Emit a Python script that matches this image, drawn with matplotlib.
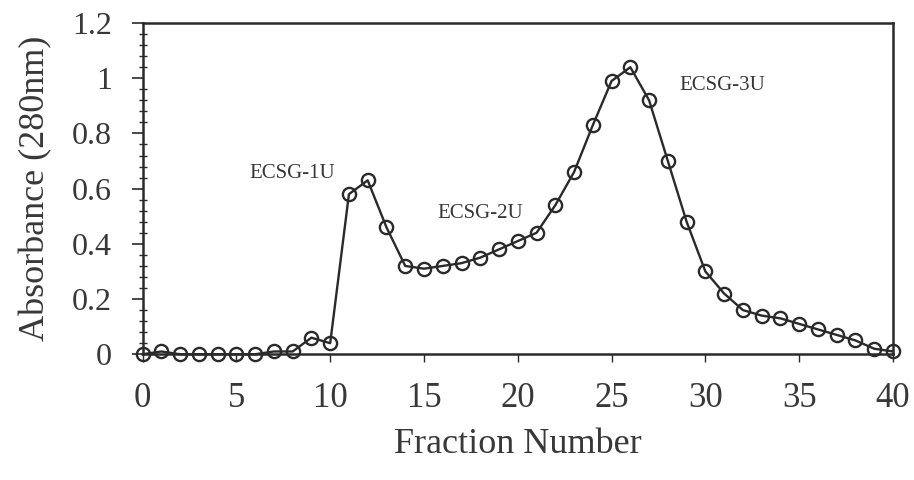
import matplotlib
matplotlib.use('Agg')
import matplotlib.pyplot as plt
from matplotlib.ticker import MultipleLocator

# fraction number vs absorbance at 280nm
fractions = list(range(0, 41))
absorbance = [0, 0.01, 0, 0, 0, 0, 0, 0.01, 0.01, 0.06,
              0.04, 0.58, 0.63, 0.46, 0.32, 0.31, 0.32, 0.33, 0.35, 0.38,
              0.41, 0.44, 0.54, 0.66, 0.83, 0.99, 1.04, 0.92, 0.70, 0.48,
              0.30, 0.22, 0.16, 0.14, 0.13, 0.11, 0.09, 0.07, 0.05, 0.02,
              0.01]

peak_labels = ['ECSG-1U', 'ECSG-2U', 'ECSG-3U']
peak_x = [8.0, 18.0, 30.9]
peak_y = [0.655, 0.51, 0.975]

x_ticks = [0, 5, 10, 15, 20, 25, 30, 35, 40]
y_ticks = [0, 0.2, 0.4, 0.6, 0.8, 1.0, 1.2]
y_ticklabels = ['0', '0.2', '0.4', '0.6', '0.8', '1', '1.2']

plt.rcParams['font.family'] = ['Liberation Serif', 'DejaVu Serif']
ink = '#2a2a2a'
txt = '#383838'

fig = plt.figure(figsize=(9.14, 4.8), dpi=100)
ax = fig.add_axes([0.156, 0.262, 0.821, 0.69])

ax.plot(fractions, absorbance, color=ink, linewidth=1.7, marker='o',
        markersize=9.5, markerfacecolor='none', markeredgecolor=ink,
        markeredgewidth=1.7, clip_on=False, zorder=3)

for lab, px, py in zip(peak_labels, peak_x, peak_y):
    ax.text(px, py, lab, fontsize=15, color=txt, ha='center', va='center')

ax.set_xlim(0, 40)
ax.set_ylim(0, 1.2)
ax.set_xticks(x_ticks)
ax.set_yticks(y_ticks)
ax.set_yticklabels(y_ticklabels)
ax.yaxis.set_minor_locator(MultipleLocator(0.04))

ax.tick_params(axis='x', which='major', direction='out', length=6, width=1,
               color=ink, labelsize=25, labelcolor=txt, pad=14)
ax.tick_params(axis='y', which='major', direction='out', length=8, width=1.2,
               color=ink, labelsize=23, labelcolor=txt, pad=14)
ax.tick_params(axis='y', which='minor', direction='inout', length=6, width=1,
               color=ink)

for side in ['left', 'right', 'top', 'bottom']:
    ax.spines[side].set_linewidth(1.8)
    ax.spines[side].set_color(ink)

ax.set_xlabel('Fraction Number', fontsize=26, color=txt, labelpad=9)
ax.set_ylabel('Absorbance (280nm)', fontsize=26, color=txt, labelpad=14)

fig.savefig('out.png', dpi=100, facecolor='white')
